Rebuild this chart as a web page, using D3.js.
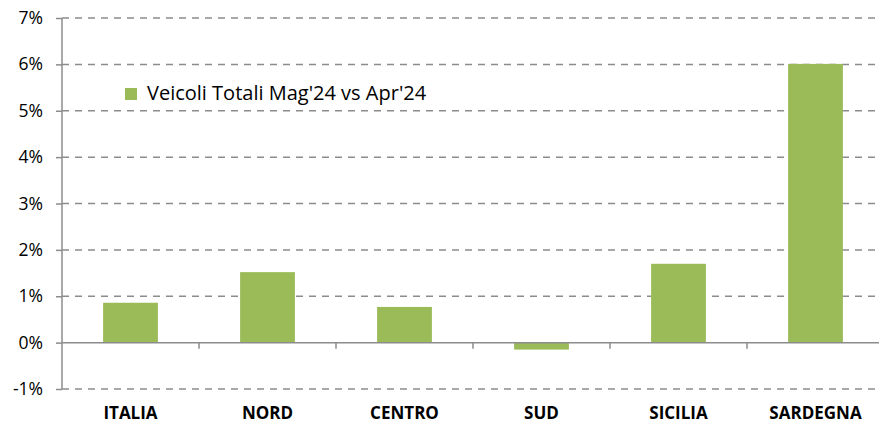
<!DOCTYPE html>
<html>
<head>
<meta charset="utf-8">
<script src="https://cdn.jsdelivr.net/npm/d3@7"></script>
<style>
  body { margin: 0; background: #fff; }
  svg { display: block; font-family: "Open Sans", sans-serif; }
</style>
</head>
<body>
<div class="chart"></div>
<script>
var w = 879,
  h = 424,
  categories = ['ITALIA', 'NORD', 'CENTRO', 'SUD', 'SICILIA', 'SARDEGNA'],
  values = [0.86, 1.52, 0.77, -0.15, 1.70, 6.01],
  yTicks = [-1, 0, 1, 2, 3, 4, 5, 6, 7],
  seriesName = "Veicoli Totali Mag'24 vs Apr'24",
  barColor = '#9bbb59',
  gridColor = '#8c8c8c';

var svg = d3.select('.chart')
  .append('svg')
  .attr('width', w)
  .attr('height', h);

// plot area runs slightly past the right edge, like the original crop
var x = d3.scaleBand()
  .domain(categories)
  .range([62, 884])
  .paddingInner(0.6)
  .paddingOuter(0.3);

var y = d3.scaleLinear()
  .domain([-1, 7])
  .range([389, 18]);

// dashed gridlines
svg.append('g')
  .selectAll('line')
  .data(yTicks.filter(function (d) { return d !== 0; }))
  .enter()
  .append('line')
  .attr('x1', 62)
  .attr('x2', w)
  .attr('y1', function (d) { return y(d); })
  .attr('y2', function (d) { return y(d); })
  .attr('stroke', gridColor)
  .attr('stroke-width', 1.5)
  .attr('stroke-dasharray', '7,6');

// bars
svg.append('g')
  .selectAll('rect')
  .data(values)
  .enter()
  .append('rect')
  .attr('x', function (d, i) { return x(categories[i]); })
  .attr('width', x.bandwidth())
  .attr('y', function (d) { return y(Math.max(0, d)); })
  .attr('height', function (d) { return Math.abs(y(d) - y(0)); })
  .attr('fill', barColor);

// y axis
var yAxis = svg.append('g')
  .attr('transform', 'translate(62,0)')
  .call(d3.axisLeft(y).tickValues(yTicks).tickSize(6).tickPadding(13)
    .tickFormat(function (d) { return d + '%'; }));
yAxis.selectAll('line, path').attr('stroke', gridColor).attr('stroke-width', 1.5);
yAxis.select('.domain').attr('d', 'M0,' + y(-1) + 'V' + y(7));
yAxis.selectAll('text')
  .attr('font-size', 17.5)
  .attr('font-family', '"Open Sans", sans-serif')
  .attr('fill', '#000');

// x axis on the zero line, ticks between categories
var boundaries = d3.range(1, categories.length).map(function (i) {
  return 62 + i * (884 - 62) / categories.length;
});
var xg = svg.append('g');
xg.append('line')
  .attr('x1', 62).attr('x2', w)
  .attr('y1', y(0)).attr('y2', y(0))
  .attr('stroke', gridColor).attr('stroke-width', 1.5);
xg.selectAll('line.tick')
  .data(boundaries)
  .enter()
  .append('line')
  .attr('class', 'tick')
  .attr('x1', function (d) { return d; })
  .attr('x2', function (d) { return d; })
  .attr('y1', y(0))
  .attr('y2', y(0) + 6)
  .attr('stroke', gridColor).attr('stroke-width', 1.5);

// category labels at the bottom (kept just inside the frame)
svg.append('g')
  .selectAll('text')
  .data(categories)
  .enter()
  .append('text')
  .attr('x', function (d) { return x(d) + x.bandwidth() / 2; })
  .attr('y', 419)
  .attr('text-anchor', 'middle')
  .attr('font-size', 17)
  .attr('font-weight', 'bold')
  .text(function (d) { return d; });

// legend
var legend = svg.append('g').attr('transform', 'translate(125,88)');
legend.append('rect').attr('width', 12).attr('height', 12).attr('fill', barColor);
legend.append('text')
  .attr('x', 22)
  .attr('y', 11.5)
  .attr('font-size', 20)
  .text(seriesName);
</script>
</body>
</html>
